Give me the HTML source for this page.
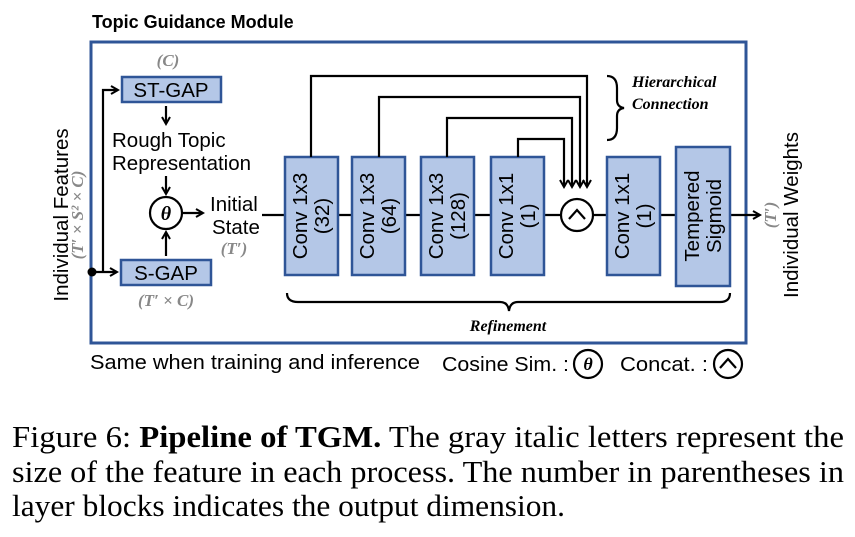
<!DOCTYPE html>
<html><head><meta charset="utf-8"><style>
body{margin:0;background:#fff;}
svg{display:block;font-family:"Liberation Sans",sans-serif;}
.blk{fill:#b4c7e7;stroke:#2f5597;stroke-width:2.5;}
.ln{stroke:#000;stroke-width:2.2;fill:none;}
.t{font-size:20.5px;fill:#000;}
.g{font-family:"Liberation Serif",serif;font-style:italic;font-weight:bold;fill:#888;font-size:17px;}
.cap{font-family:"Liberation Serif",serif;font-size:31px;fill:#000;}
</style></head><body>
<svg width="855" height="537" viewBox="0 0 855 537">
<defs><marker id="ah" markerWidth="10" markerHeight="10" refX="8" refY="5" orient="auto" markerUnits="userSpaceOnUse"><path d="M1,1 L8,5 L1,9" fill="none" stroke="#000" stroke-width="2"/></marker></defs>
<text x="92" y="28" font-size="18" font-weight="bold">Topic Guidance Module</text>
<rect x="91" y="42" width="655" height="301" fill="none" stroke="#2f5597" stroke-width="3"/>

<text transform="translate(68,215) rotate(-90)" text-anchor="middle" class="t" font-size="21">Individual Features</text>
<text transform="translate(83,215) rotate(-90)" text-anchor="middle" class="g">(T′ × S² × C)</text>
<circle cx="92" cy="272" r="4.5" fill="#000"/>
<path class="ln" d="M92,272 H117" marker-end="url(#ah)"/>
<path class="ln" d="M103,272 V90 H118" marker-end="url(#ah)"/>

<text x="168" y="66" text-anchor="middle" class="g">(C)</text>
<rect class="blk" x="122" y="77" width="99" height="25"/>
<text x="171" y="97" text-anchor="middle" class="t">ST-GAP</text>
<path class="ln" d="M166,106 V124" marker-end="url(#ah)"/>
<text x="112" y="147" class="t">Rough Topic</text>
<text x="112" y="170" class="t">Representation</text>
<path class="ln" d="M166,176 V194" marker-end="url(#ah)"/>
<circle cx="166" cy="213" r="16" fill="#fff" stroke="#000" stroke-width="2.2"/>
<text x="166" y="220" text-anchor="middle" font-family="Liberation Serif,serif" font-style="italic" font-weight="bold" font-size="20">θ</text>
<path class="ln" d="M166,256 V232" marker-end="url(#ah)"/>
<path class="ln" d="M183,213 H203" marker-end="url(#ah)"/>
<text x="210" y="211" class="t">Initial</text>
<text x="212" y="234" class="t">State</text>
<text x="234" y="254" text-anchor="middle" class="g">(T′)</text>
<rect class="blk" x="121" y="260" width="90" height="25"/>
<text x="166" y="280" text-anchor="middle" class="t">S-GAP</text>
<text x="166" y="306" text-anchor="middle" class="g">(T′ × C)</text>

<path class="ln" d="M262,215 H285 M338,215 H352 M405,215 H421 M474,215 H491 M544,215 H561 M593,215 H607 M660,215 H676"/>
<path class="ln" d="M730,215 H760" marker-end="url(#ah)"/>

<rect class="blk" x="285" y="157" width="53" height="118"/>
<text transform="translate(307,216) rotate(-90)" text-anchor="middle" class="t">Conv 1x3</text>
<text transform="translate(329,216) rotate(-90)" text-anchor="middle" class="t">(32)</text>
<rect class="blk" x="352" y="157" width="53" height="118"/>
<text transform="translate(374,216) rotate(-90)" text-anchor="middle" class="t">Conv 1x3</text>
<text transform="translate(396,216) rotate(-90)" text-anchor="middle" class="t">(64)</text>
<rect class="blk" x="421" y="157" width="53" height="118"/>
<text transform="translate(443,216) rotate(-90)" text-anchor="middle" class="t">Conv 1x3</text>
<text transform="translate(465,216) rotate(-90)" text-anchor="middle" class="t">(128)</text>
<rect class="blk" x="491" y="157" width="53" height="118"/>
<text transform="translate(513,216) rotate(-90)" text-anchor="middle" class="t">Conv 1x1</text>
<text transform="translate(535,216) rotate(-90)" text-anchor="middle" class="t">(1)</text>

<path class="ln" d="M311,157 V76 H587 V187" marker-end="url(#ah)"/>
<path class="ln" d="M379,157 V97 H580 V187" marker-end="url(#ah)"/>
<path class="ln" d="M447,157 V118 H572 V187" marker-end="url(#ah)"/>
<path class="ln" d="M518,157 V139 H564 V187" marker-end="url(#ah)"/>

<circle cx="577" cy="215" r="16" fill="#fff" stroke="#000" stroke-width="2.2"/>
<path class="ln" d="M569,219 L577,210 L585,219"/>

<rect class="blk" x="607" y="157" width="53" height="118"/>
<text transform="translate(629,216) rotate(-90)" text-anchor="middle" class="t">Conv 1x1</text>
<text transform="translate(651,216) rotate(-90)" text-anchor="middle" class="t">(1)</text>
<rect class="blk" x="676" y="147" width="54" height="139"/>
<text transform="translate(699,216) rotate(-90)" text-anchor="middle" class="t">Tempered</text>
<text transform="translate(721,216) rotate(-90)" text-anchor="middle" class="t">Sigmoid</text>

<path class="ln" d="M607,76 Q617,76 617,88 V100 Q617,107 624,108 Q617,109 617,116 V128 Q617,140 607,140"/>
<text x="632" y="87" font-family="Liberation Serif,serif" font-style="italic" font-weight="bold" font-size="16">Hierarchical</text>
<text x="632" y="109" font-family="Liberation Serif,serif" font-style="italic" font-weight="bold" font-size="16">Connection</text>

<path class="ln" d="M287,293 Q287,302 298,302 H500 Q508,302 509,311 Q510,302 518,302 H720 Q730,302 730,293"/>
<text x="508" y="331" text-anchor="middle" font-family="Liberation Serif,serif" font-style="italic" font-weight="bold" font-size="16">Refinement</text>

<text transform="translate(798,215) rotate(-90)" text-anchor="middle" class="t" font-size="21">Individual Weights</text>
<text transform="translate(776,215) rotate(-90)" text-anchor="middle" class="g">(T′)</text>

<text x="90" y="369" class="t" font-size="21" textLength="330" lengthAdjust="spacingAndGlyphs">Same when training and inference</text>
<text x="442" y="371" class="t" font-size="21" textLength="127" lengthAdjust="spacingAndGlyphs">Cosine Sim. :</text>
<circle cx="588" cy="364" r="14" fill="#fff" stroke="#000" stroke-width="2.2"/>
<text x="588" y="370" text-anchor="middle" font-family="Liberation Serif,serif" font-style="italic" font-weight="bold" font-size="18">θ</text>
<text x="620" y="371" class="t" font-size="21" textLength="88" lengthAdjust="spacingAndGlyphs">Concat. :</text>
<circle cx="728" cy="364" r="14" fill="#fff" stroke="#000" stroke-width="2.2"/>
<path class="ln" d="M720,368 L728,359 L736,368"/>

<text x="12" y="447" class="cap" textLength="832" lengthAdjust="spacingAndGlyphs">Figure 6: <tspan font-weight="bold">Pipeline of TGM.</tspan> The gray italic letters represent the</text>
<text x="12" y="482" class="cap" textLength="832" lengthAdjust="spacingAndGlyphs">size of the feature in each process. The number in parentheses in</text>
<text x="12" y="516" class="cap" textLength="553" lengthAdjust="spacingAndGlyphs">layer blocks indicates the output dimension.</text>
</svg>
</body></html>
